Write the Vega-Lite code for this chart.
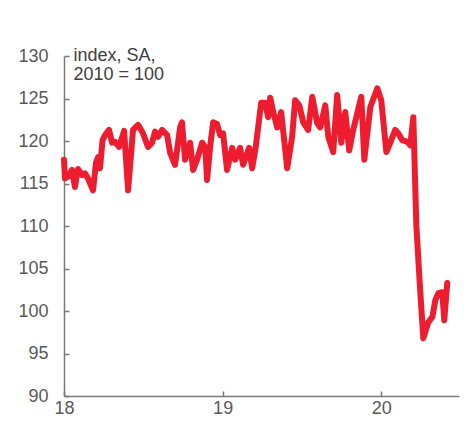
{
  "$schema": "https://vega.github.io/schema/vega-lite/v6.json",
  "autosize": {"type": "none"},
  "width": 395,
  "height": 340,
  "padding": {"left": 64, "top": 56, "right": 5, "bottom": 32},
  "background": "white",
  "config": {
    "view": {"stroke": null},
    "font": "Liberation Sans",
    "axis": {
      "grid": false,
      "domainColor": "#7a7a7a",
      "domainWidth": 1.5,
      "tickColor": "#7a7a7a",
      "tickWidth": 1.5,
      "labelColor": "#595959",
      "labelFont": "Liberation Sans",
      "labelFontSize": 18
    }
  },
  "data": {
    "values": [
      {"year": 2018.000, "index": 117.8},
      {"year": 2018.006, "index": 115.6},
      {"year": 2018.025, "index": 115.8},
      {"year": 2018.050, "index": 116.6},
      {"year": 2018.069, "index": 114.6},
      {"year": 2018.088, "index": 116.7},
      {"year": 2018.114, "index": 116.0},
      {"year": 2018.132, "index": 116.2},
      {"year": 2018.151, "index": 115.6},
      {"year": 2018.183, "index": 114.2},
      {"year": 2018.202, "index": 117.5},
      {"year": 2018.215, "index": 118.1},
      {"year": 2018.227, "index": 116.8},
      {"year": 2018.243, "index": 120.1},
      {"year": 2018.259, "index": 120.7},
      {"year": 2018.284, "index": 121.3},
      {"year": 2018.303, "index": 119.8},
      {"year": 2018.322, "index": 119.9},
      {"year": 2018.347, "index": 119.3},
      {"year": 2018.379, "index": 121.2},
      {"year": 2018.404, "index": 114.2},
      {"year": 2018.435, "index": 121.3},
      {"year": 2018.467, "index": 121.9},
      {"year": 2018.498, "index": 120.9},
      {"year": 2018.530, "index": 119.3},
      {"year": 2018.555, "index": 119.8},
      {"year": 2018.574, "index": 121.1},
      {"year": 2018.593, "index": 120.5},
      {"year": 2018.618, "index": 121.3},
      {"year": 2018.650, "index": 120.7},
      {"year": 2018.669, "index": 118.6},
      {"year": 2018.700, "index": 117.2},
      {"year": 2018.732, "index": 121.6},
      {"year": 2018.744, "index": 122.2},
      {"year": 2018.763, "index": 117.8},
      {"year": 2018.795, "index": 119.8},
      {"year": 2018.814, "index": 116.6},
      {"year": 2018.839, "index": 117.8},
      {"year": 2018.871, "index": 119.8},
      {"year": 2018.890, "index": 119.3},
      {"year": 2018.902, "index": 115.4},
      {"year": 2018.921, "index": 119.3},
      {"year": 2018.940, "index": 122.2},
      {"year": 2018.965, "index": 122.0},
      {"year": 2018.984, "index": 120.7},
      {"year": 2019.003, "index": 120.9},
      {"year": 2019.028, "index": 116.6},
      {"year": 2019.060, "index": 119.2},
      {"year": 2019.079, "index": 117.8},
      {"year": 2019.110, "index": 119.2},
      {"year": 2019.129, "index": 117.2},
      {"year": 2019.167, "index": 119.2},
      {"year": 2019.186, "index": 116.8},
      {"year": 2019.208, "index": 119.2},
      {"year": 2019.243, "index": 124.5},
      {"year": 2019.268, "index": 124.5},
      {"year": 2019.287, "index": 122.8},
      {"year": 2019.300, "index": 125.1},
      {"year": 2019.319, "index": 123.4},
      {"year": 2019.344, "index": 121.6},
      {"year": 2019.369, "index": 123.4},
      {"year": 2019.407, "index": 116.8},
      {"year": 2019.438, "index": 120.5},
      {"year": 2019.457, "index": 124.8},
      {"year": 2019.483, "index": 124.2},
      {"year": 2019.508, "index": 122.2},
      {"year": 2019.539, "index": 121.3},
      {"year": 2019.565, "index": 125.2},
      {"year": 2019.596, "index": 122.1},
      {"year": 2019.615, "index": 121.6},
      {"year": 2019.647, "index": 124.2},
      {"year": 2019.666, "index": 120.5},
      {"year": 2019.697, "index": 118.7},
      {"year": 2019.722, "index": 125.4},
      {"year": 2019.748, "index": 119.8},
      {"year": 2019.773, "index": 123.4},
      {"year": 2019.798, "index": 118.9},
      {"year": 2019.823, "index": 121.3},
      {"year": 2019.874, "index": 125.2},
      {"year": 2019.893, "index": 117.8},
      {"year": 2019.931, "index": 124.0},
      {"year": 2019.975, "index": 126.2},
      {"year": 2020.000, "index": 124.8},
      {"year": 2020.032, "index": 118.7},
      {"year": 2020.057, "index": 119.8},
      {"year": 2020.088, "index": 121.3},
      {"year": 2020.107, "index": 120.9},
      {"year": 2020.132, "index": 120.1},
      {"year": 2020.164, "index": 119.9},
      {"year": 2020.183, "index": 119.5},
      {"year": 2020.202, "index": 122.8},
      {"year": 2020.221, "index": 110.1},
      {"year": 2020.243, "index": 103.1},
      {"year": 2020.265, "index": 96.8},
      {"year": 2020.297, "index": 98.7},
      {"year": 2020.322, "index": 99.3},
      {"year": 2020.341, "index": 101.3},
      {"year": 2020.360, "index": 102.1},
      {"year": 2020.385, "index": 102.2},
      {"year": 2020.397, "index": 98.9},
      {"year": 2020.416, "index": 103.3}
    ]
  },
  "mark": {"type": "line", "color": "#EE1C2F", "strokeWidth": 6, "strokeJoin": "round", "strokeCap": "round"},
  "encoding": {
    "x": {
      "field": "year",
      "type": "quantitative",
      "scale": {"domain": [2018, 2020.49], "nice": false, "zero": false},
      "axis": {
        "title": null,
        "values": [2018, 2019, 2020],
        "labelExpr": "substring(toString(datum.value), 2)",
        "tickSize": -5,
        "labelPadding": 8,
        "labelFlush": false
      }
    },
    "y": {
      "field": "index",
      "type": "quantitative",
      "scale": {"domain": [90, 130], "nice": false, "zero": false},
      "axis": {
        "values": [90, 95, 100, 105, 110, 115, 120, 125, 130],
        "tickSize": -5,
        "labelPadding": 21,
        "title": ["index, SA,", "2010 = 100"],
        "titleAngle": 0,
        "titleAlign": "left",
        "titleBaseline": "top",
        "titleX": 9,
        "titleY": -10,
        "titleFont": "Liberation Sans",
        "titleFontSize": 18,
        "titleFontWeight": "normal",
        "titleColor": "#404040",
        "titleLineHeight": 19
      }
    }
  }
}
